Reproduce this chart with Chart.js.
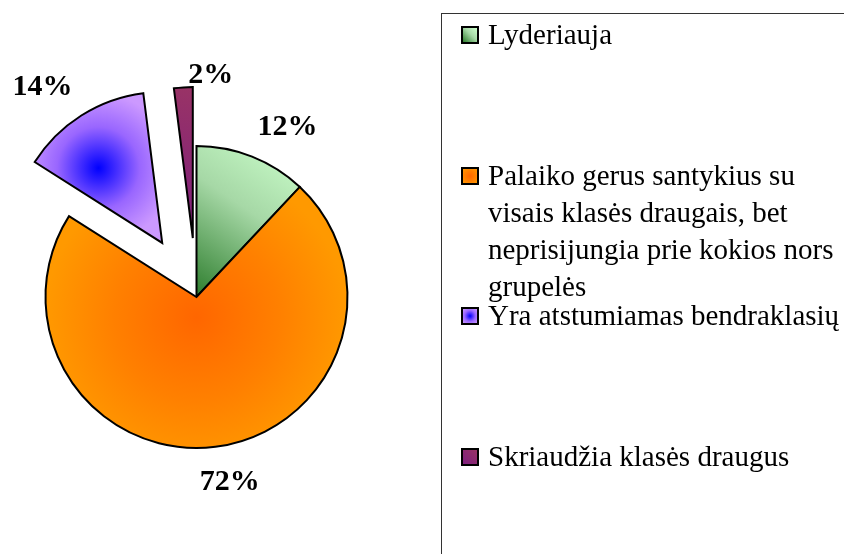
<!DOCTYPE html>
<html>
<head>
<meta charset="utf-8">
<script src="https://cdn.jsdelivr.net/npm/chart.js@4/dist/chart.umd.min.js"></script>
<style>
html,body{margin:0;padding:0;background:#fff;overflow:hidden;}
#wrap{position:relative;width:844px;height:554px;overflow:hidden;}
#c{position:absolute;left:0;top:0;}
#legendBox{position:absolute;left:441px;top:13px;width:460px;height:600px;border:1px solid #333;box-sizing:border-box;}
.sw{position:absolute;left:461px;width:14px;height:14px;border:2px solid #000;}
.tx{position:absolute;left:488px;width:362px;font-family:"Liberation Serif","Times New Roman",serif;font-size:29px;line-height:37px;color:#000;}
</style>
</head>
<body>
<div id="wrap">
  <canvas id="c" width="844" height="554"></canvas>
  <div id="legendBox"></div>
</div>
<script>
// ---- data ----
const LABELS = [
  "Lyderiauja",
  "Palaiko gerus santykius su visais klasės draugais, bet neprisijungia prie kokios nors grupelės",
  "Yra atstumiamas bendraklasių",
  "Skriaudžia klasės draugus"
];
const VALUES = [12, 72, 14, 2];

// ---- styles ----
const FILLS = [
  {type: 'linear', from: '#2d7d2d', mid: '#a6d8a6', to: '#ccffcc'},
  {type: 'radial', from: '#ff6600', mid: '#ff8000', to: '#ff9900'},
  {type: 'radial', from: '#0000ff', mid: '#9966ff', to: '#cc99ff'},
  {type: 'linear', from: '#7f1f7f', mid: '#8c2a70', to: '#993366'}
];
const EXPLODE = [0, 0, 64, 59];
const LABEL_GAP = 20;
const LABEL_NUDGE = [[17, -4], [8, 3], [-12, -5], [30, 16]];

function arcBox(a) {
  const R = a.outerRadius;
  const pts = [[a.x, a.y],
    [a.x + R * Math.cos(a.startAngle), a.y + R * Math.sin(a.startAngle)],
    [a.x + R * Math.cos(a.endAngle), a.y + R * Math.sin(a.endAngle)]];
  for (let k = -4; k <= 8; k++) {
    const ang = k * Math.PI / 2;
    if (ang > a.startAngle && ang < a.endAngle) pts.push([a.x + R * Math.cos(ang), a.y + R * Math.sin(ang)]);
  }
  let x0 = Infinity, y0 = Infinity, x1 = -Infinity, y1 = -Infinity;
  pts.forEach(p => { x0 = Math.min(x0, p[0]); x1 = Math.max(x1, p[0]); y0 = Math.min(y0, p[1]); y1 = Math.max(y1, p[1]); });
  return {x0, y0, x1, y1};
}

function makeFill(ctx, a, i) {
  const f = FILLS[i];
  const b = arcBox(a);
  let g;
  if (f.type === 'linear') {
    g = ctx.createLinearGradient(b.x0, b.y1, b.x1, b.y0);
  } else {
    const cx = (b.x0 + b.x1) / 2, cy = (b.y0 + b.y1) / 2;
    const r = Math.max(b.x1 - b.x0, b.y1 - b.y0) / 2;
    g = ctx.createRadialGradient(cx, cy, 0, cx, cy, r);
  }
  g.addColorStop(0, f.from);
  g.addColorStop(0.55, f.mid);
  g.addColorStop(1, f.to);
  return g;
}

const explodePlugin = {
  id: 'explodeFill',
  beforeDatasetsDraw(chart) {
    const ds = chart.data.datasets[0];
    const meta = chart.getDatasetMeta(0);
    meta.data.forEach((arc, i) => {
      arc.$explode = (ds.explode || [])[i] || 0;
      arc.$idx = i;
      if (!arc.$wrapped) {
        const proto = Object.getPrototypeOf(arc);
        arc.draw = function (ctx) {
          const h = (this.startAngle + this.endAngle) / 2;
          const d = this.$explode || 0;
          const opts = this.options;
          ctx.save();
          ctx.translate(Math.cos(h) * d, Math.sin(h) * d);
          this.options = Object.assign({}, opts, {backgroundColor: makeFill(ctx, this, this.$idx)});
          proto.draw.call(this, ctx);
          this.options = opts;
          ctx.restore();
        };
        arc.$wrapped = true;
      }
    });
  }
};

const labelPlugin = {
  id: 'pctLabels',
  afterDatasetsDraw(chart) {
    const ctx = chart.ctx;
    const meta = chart.getDatasetMeta(0);
    const vals = chart.data.datasets[0].data;
    const total = vals.reduce((s, v) => s + v, 0);
    ctx.save();
    ctx.font = 'bold 30px "Liberation Serif", "Times New Roman", serif';
    ctx.fillStyle = '#000';
    ctx.textAlign = 'center';
    ctx.textBaseline = 'alphabetic';
    meta.data.forEach((a, i) => {
      const h = (a.startAngle + a.endAngle) / 2;
      const d = a.$explode || 0;
      const dx = Math.cos(h), dy = Math.sin(h);
      const cx = a.x + dx * d, cy = a.y + dy * d;
      const txt = Math.round(vals[i] / total * 100) + '%';
      const w = ctx.measureText(txt).width, th = 20;
      const R = a.outerRadius + LABEL_GAP;
      const lx = cx + dx * R + dx * w / 2 + LABEL_NUDGE[i][0];
      const ly = cy + dy * R + dy * th / 2 + LABEL_NUDGE[i][1];
      ctx.fillText(txt, lx, ly + 10);
    });
    ctx.restore();
  }
};

function cssFill(f) {
  if (f.type === 'linear') return 'linear-gradient(to top right, ' + f.from + ', ' + f.mid + ' 55%, ' + f.to + ')';
  return 'radial-gradient(circle, ' + f.from + ' 0%, ' + f.mid + ' 55%, ' + f.to + ' 100%)';
}

const htmlLegend = {
  id: 'htmlLegend',
  afterInit(chart) {
    const wrap = document.getElementById('wrap');
    chart.data.labels.forEach((lab, i) => {
      const c = 35 + 140.5 * i;
      const sw = document.createElement('div');
      sw.className = 'sw';
      sw.style.top = (c - 9) + 'px';
      sw.style.background = cssFill(FILLS[i]);
      wrap.appendChild(sw);
      const tx = document.createElement('div');
      tx.className = 'tx';
      tx.style.top = (c - 19) + 'px';
      tx.textContent = lab;
      wrap.appendChild(tx);
    });
  }
};

new Chart(document.getElementById('c'), {
  type: 'pie',
  data: {
    labels: LABELS,
    datasets: [{
      data: VALUES,
      backgroundColor: FILLS.map(f => f.to),
      borderColor: '#000',
      borderWidth: 2,
      borderJoinStyle: 'miter',
      explode: EXPLODE
    }]
  },
  options: {
    responsive: false,
    animation: false,
    events: [],
    radius: 151,
    layout: {padding: {left: 20, right: 471, top: 80, bottom: 40}},
    plugins: {legend: {display: false}, tooltip: {enabled: false}}
  },
  plugins: [explodePlugin, labelPlugin, htmlLegend]
});
</script>
</body>
</html>
